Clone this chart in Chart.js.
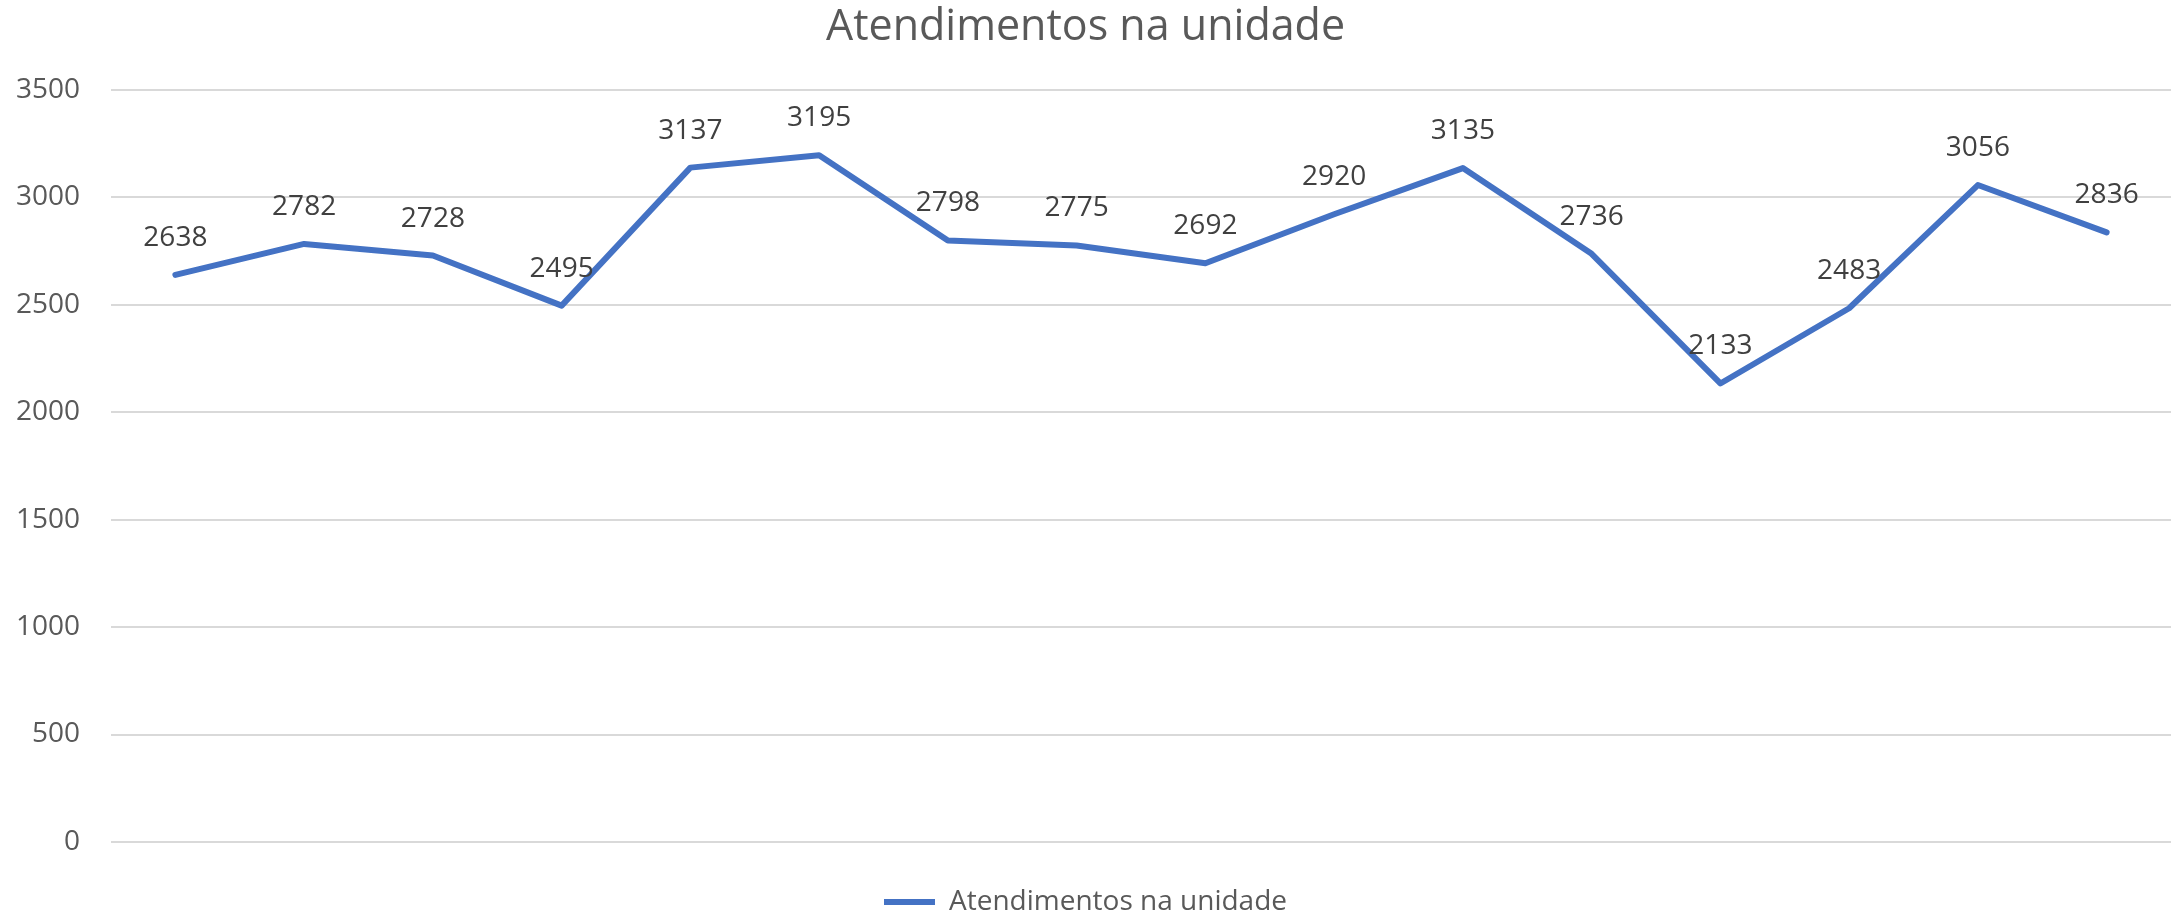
<!DOCTYPE html>
<html>
<head>
<meta charset="utf-8">
<script src="https://cdn.jsdelivr.net/npm/chart.js@4"></script>
<style>
  html, body { margin: 0; padding: 0; background: #fff; overflow: hidden; }
  #wrap { width: 2171px; height: 916px; position: relative; }
</style>
</head>
<body>
<div id="wrap"><canvas id="chart"></canvas></div>
<script>
const titleText = 'Atendimentos na unidade';
const seriesName = 'Atendimentos na unidade';
const categories = ['1','2','3','4','5','6','7','8','9','10','11','12','13','14','15','16'];
const atendimentos = [2638, 2782, 2728, 2495, 3137, 3195, 2798, 2775, 2692, 2920, 3135, 2736, 2133, 2483, 3056, 2836];
const yTicks = [0, 500, 1000, 1500, 2000, 2500, 3000, 3500];

const FONT = "'Open Sans', sans-serif";

// draws the value above each point, like excel data labels
const pointLabels = {
    id: 'pointLabels',
    afterDatasetsDraw(chart) {
        const ctx = chart.ctx;
        const meta = chart.getDatasetMeta(0);
        ctx.save();
        ctx.font = '28px ' + FONT;
        ctx.fillStyle = '#404040';
        ctx.textAlign = 'center';
        ctx.textBaseline = 'middle';
        meta.data.forEach(function(p, i){
            ctx.fillText(String(atendimentos[i]), p.x, p.y - 37);
        });
        ctx.restore();
    }
};

new Chart(document.getElementById('chart'), {
    type: 'line',
    data: {
        labels: categories,
        datasets: [{
            label: seriesName,
            data: atendimentos,
            borderColor: '#4472C4',
            backgroundColor: '#4472C4',
            borderWidth: 6,
            borderCapStyle: 'round',
            borderJoinStyle: 'round',
            pointRadius: 0,
            pointHoverRadius: 0,
            tension: 0
        }]
    },
    options: {
        responsive: true,
        maintainAspectRatio: false,
        animation: false,
        layout: { padding: 0 },
        plugins: {
            title: {
                display: true,
                text: titleText,
                color: '#595959',
                font: { family: FONT, size: 43, weight: 'normal' },
                padding: { top: 2, bottom: 36 }
            },
            legend: {
                position: 'bottom',
                maxHeight: 74,
                labels: {
                    color: '#595959',
                    font: { family: FONT, size: 28 },
                    usePointStyle: true,
                    pointStyle: 'line',
                    pointStyleWidth: 51,
                    padding: 46
                }
            },
            tooltip: { enabled: false }
        },
        scales: {
            x: {
                type: 'category',
                offset: true,
                display: false
            },
            y: {
                min: 0,
                max: 3500,
                afterBuildTicks: function(scale){
                    scale.ticks = yTicks.map(v => ({ value: v }));
                },
                afterFit: function(scale){
                    scale.width = 111;
                },
                border: { display: false },
                grid: { color: '#d9d9d9', lineWidth: 2, drawTicks: false },
                ticks: {
                    color: '#595959',
                    font: { family: FONT, size: 28 },
                    padding: 31,
                    callback: function(v){ return String(v); }
                }
            }
        }
    },
    plugins: [pointLabels]
});
</script>
</body>
</html>
